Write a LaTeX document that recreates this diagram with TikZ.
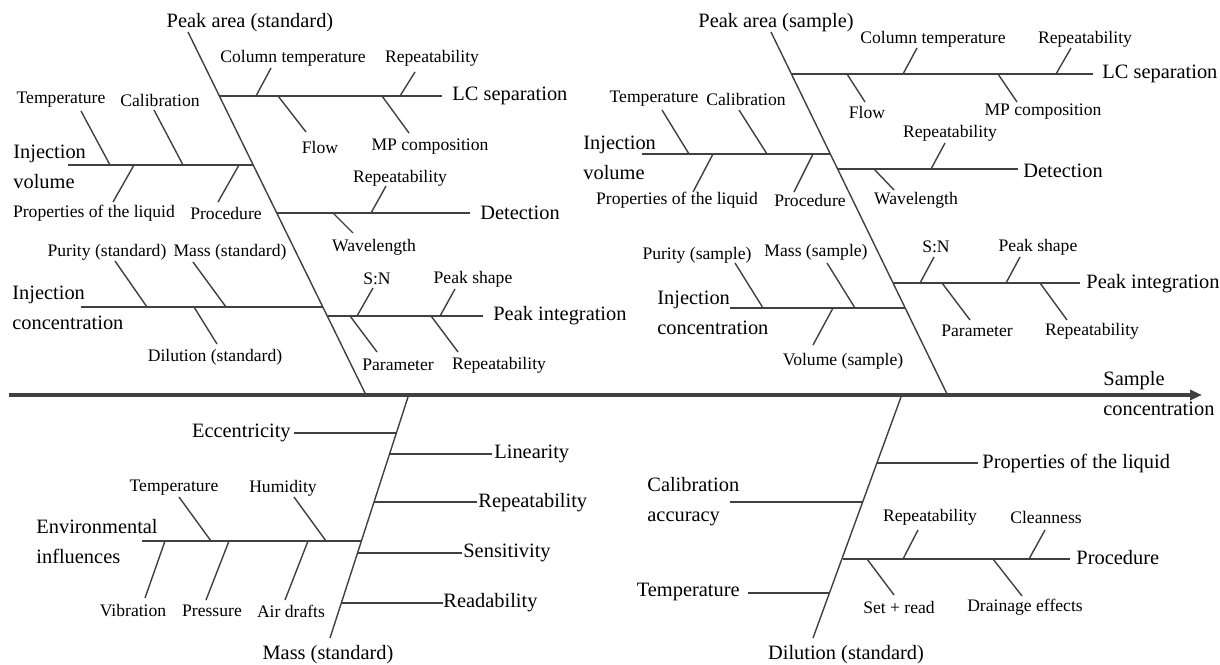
\documentclass[tikz,border=0pt]{standalone}
\usepackage{fontspec}
\setmainfont{LiberationSerif}[Extension=.ttf,UprightFont=*-Regular,BoldFont=*-Bold,ItalicFont=*-Italic,BoldItalicFont=*-BoldItalic]
\usetikzlibrary{arrows.meta}
\definecolor{bonegray}{RGB}{64,64,64}
\tikzset{
  bone/.style={draw=bonegray,line width=0.7pt},
  spine/.style={draw=bonegray,line width=1.6pt,-{Triangle[length=6pt,width=5pt]}},
  lbl/.style={inner sep=0pt,font=\rmfamily\fontsize{8.8}{10}\selectfont},
  cat/.style={inner sep=0pt,font=\rmfamily\fontsize{10.2}{15}\selectfont,align=left},
}
\begin{document}
\begin{tikzpicture}[x=0.5pt,y=-0.5pt]
\useasboundingbox (0,0) rectangle (1220,664);
% 主干
\coordinate (s0) at (9,395);
\coordinate (s1) at (1202,395);
\draw[spine] (s0) -- (s1);
\node[cat,anchor=west] (res) at (1103,394) {Sample\\concentration};
% 左上：Peak area (standard)
\node[cat] (Apa) at (250,23) {Peak area (standard)};
\coordinate (A0) at (188,32);
\coordinate (A1) at (365,393);
\draw[bone] (A0) -- (A1);
% LC separation
\coordinate (Alc0) at (220,96);
\node[cat,anchor=west,inner xsep=5pt] (Alc) at (442,96) {LC separation};
\draw[bone] (Alc0) -- (Alc0 -| Alc.west);
\coordinate (Alc1a) at (256,96); \coordinate (Alc1b) at (271,68);
\coordinate (Alc2a) at (400,96); \coordinate (Alc2b) at (415,72);
\coordinate (Alc3a) at (278,96); \coordinate (Alc3b) at (306,132);
\coordinate (Alc4a) at (382,96); \coordinate (Alc4b) at (409,133);
\draw[bone] (Alc1a) -- (Alc1b);
\draw[bone] (Alc2a) -- (Alc2b);
\draw[bone] (Alc3a) -- (Alc3b);
\draw[bone] (Alc4a) -- (Alc4b);
\node[lbl] (tAlc1) at (293,58) {Column temperature};
\node[lbl] (tAlc2) at (432,58) {Repeatability};
\node[lbl] (tAlc3) at (320,147) {Flow};
\node[lbl] (tAlc4) at (430,147) {MP composition};
% Injection volume
\coordinate (Aiv0) at (68,165);
\coordinate (Aiv1) at (253,165);
\draw[bone] (Aiv0) -- (Aiv1);
\node[cat,anchor=west] (Aiv) at (13,167) {Injection\\volume};
\coordinate (Aiv1a) at (110,165); \coordinate (Aiv1b) at (81,111);
\coordinate (Aiv2a) at (183,165); \coordinate (Aiv2b) at (154,110);
\coordinate (Aiv3a) at (134,165); \coordinate (Aiv3b) at (113,202);
\coordinate (Aiv4a) at (239,165); \coordinate (Aiv4b) at (218,202);
\draw[bone] (Aiv1a) -- (Aiv1b);
\draw[bone] (Aiv2a) -- (Aiv2b);
\draw[bone] (Aiv3a) -- (Aiv3b);
\draw[bone] (Aiv4a) -- (Aiv4b);
\node[lbl] (tAiv1) at (61,100) {Temperature};
\node[lbl] (tAiv2) at (160,100) {Calibration};
\node[lbl] (tAiv3) at (94,213) {Properties of the liquid};
\node[lbl] (tAiv4) at (226,213) {Procedure};
% Detection
\coordinate (Adt0) at (277,213);
\node[cat,anchor=west,inner xsep=5pt] (Adt) at (470,213) {Detection};
\draw[bone] (Adt0) -- (Adt0 -| Adt.west);
\coordinate (Adt1a) at (371,213); \coordinate (Adt1b) at (386,186);
\coordinate (Adt2a) at (333,213); \coordinate (Adt2b) at (353,233);
\draw[bone] (Adt1a) -- (Adt1b);
\draw[bone] (Adt2a) -- (Adt2b);
\node[lbl] (tAdt1) at (400,178) {Repeatability};
\node[lbl] (tAdt2) at (374,247) {Wavelength};
% Injection concentration
\coordinate (Aic0) at (81,307);
\coordinate (Aic1) at (323,307);
\draw[bone] (Aic0) -- (Aic1);
\node[cat,anchor=west] (Aic) at (12,308) {Injection\\concentration};
\coordinate (Aic1a) at (147,307); \coordinate (Aic1b) at (115,261);
\coordinate (Aic2a) at (226,307); \coordinate (Aic2b) at (193,262);
\coordinate (Aic3a) at (194,307); \coordinate (Aic3b) at (217,344);
\draw[bone] (Aic1a) -- (Aic1b);
\draw[bone] (Aic2a) -- (Aic2b);
\draw[bone] (Aic3a) -- (Aic3b);
\node[lbl] (tAic1) at (107,252) {Purity (standard)};
\node[lbl] (tAic2) at (230,252) {Mass (standard)};
\node[lbl] (tAic3) at (215,357) {Dilution (standard)};
% Peak integration
\coordinate (Api0) at (327,316);
\node[cat,anchor=west,inner xsep=5pt] (Api) at (483,316) {Peak integration};
\draw[bone] (Api0) -- (Api0 -| Api.west);
\coordinate (Api1a) at (357,316); \coordinate (Api1b) at (373,288);
\coordinate (Api2a) at (440,316); \coordinate (Api2b) at (455,289);
\coordinate (Api3a) at (350,316); \coordinate (Api3b) at (377,352);
\coordinate (Api4a) at (431,316); \coordinate (Api4b) at (458,352);
\draw[bone] (Api1a) -- (Api1b);
\draw[bone] (Api2a) -- (Api2b);
\draw[bone] (Api3a) -- (Api3b);
\draw[bone] (Api4a) -- (Api4b);
\node[lbl] (tApi1) at (377,279) {S:N};
\node[lbl] (tApi2) at (473,279) {Peak shape};
\node[lbl] (tApi3) at (398,365) {Parameter};
\node[lbl] (tApi4) at (499,365) {Repeatability};
% 右上：Peak area (sample)
\node[cat] (Bpa) at (776,23) {Peak area (sample)};
\coordinate (B0) at (771,32);
\coordinate (B1) at (947,394);
\draw[bone] (B0) -- (B1);
% LC separation
\coordinate (Blc0) at (792,74);
\node[cat,anchor=west,inner xsep=4.5pt] (Blc) at (1093,74) {LC separation};
\draw[bone] (Blc0) -- (Blc0 -| Blc.west);
\coordinate (Blc1a) at (903,74); \coordinate (Blc1b) at (917,48);
\coordinate (Blc2a) at (1056,74); \coordinate (Blc2b) at (1071,48);
\coordinate (Blc3a) at (847,74); \coordinate (Blc3b) at (865,102);
\coordinate (Blc4a) at (998,74); \coordinate (Blc4b) at (1017,102);
\draw[bone] (Blc1a) -- (Blc1b);
\draw[bone] (Blc2a) -- (Blc2b);
\draw[bone] (Blc3a) -- (Blc3b);
\draw[bone] (Blc4a) -- (Blc4b);
\node[lbl] (tBlc1) at (933,39) {Column temperature};
\node[lbl] (tBlc2) at (1085,39) {Repeatability};
\node[lbl] (tBlc3) at (867,112) {Flow};
\node[lbl] (tBlc4) at (1043,112) {MP composition};
% Injection volume
\coordinate (Biv0) at (642,154);
\coordinate (Biv1) at (830,154);
\draw[bone] (Biv0) -- (Biv1);
\node[cat,anchor=west] (Biv) at (583,158) {Injection\\volume};
\coordinate (Biv1a) at (689,154); \coordinate (Biv1b) at (662,110);
\coordinate (Biv2a) at (767,154); \coordinate (Biv2b) at (739,110);
\coordinate (Biv3a) at (713,154); \coordinate (Biv3b) at (693,192);
\coordinate (Biv4a) at (813,154); \coordinate (Biv4b) at (794,192);
\draw[bone] (Biv1a) -- (Biv1b);
\draw[bone] (Biv2a) -- (Biv2b);
\draw[bone] (Biv3a) -- (Biv3b);
\draw[bone] (Biv4a) -- (Biv4b);
\node[lbl] (tBiv1) at (654,99) {Temperature};
\node[lbl] (tBiv2) at (746,99) {Calibration};
\node[lbl] (tBiv3) at (677,200) {Properties of the liquid};
\node[lbl] (tBiv4) at (810,200) {Procedure};
% Detection
\coordinate (Bdt0) at (838,169);
\node[cat,anchor=west,inner xsep=2.5pt] (Bdt) at (1018,171) {Detection};
\draw[bone] (Bdt0) -- (Bdt0 -| Bdt.west);
\coordinate (Bdt1a) at (931,169); \coordinate (Bdt1b) at (945,143);
\coordinate (Bdt2a) at (874,169); \coordinate (Bdt2b) at (894,190);
\draw[bone] (Bdt1a) -- (Bdt1b);
\draw[bone] (Bdt2a) -- (Bdt2b);
\node[lbl] (tBdt1) at (950,133) {Repeatability};
\node[lbl] (tBdt2) at (916,200) {Wavelength};
% Peak integration
\coordinate (Bpi0) at (893,283);
\node[cat,anchor=west,inner xsep=3pt] (Bpi) at (1080,284) {Peak integration};
\draw[bone] (Bpi0) -- (Bpi0 -| Bpi.west);
\coordinate (Bpi1a) at (920,283); \coordinate (Bpi1b) at (934,257);
\coordinate (Bpi2a) at (1006,283); \coordinate (Bpi2b) at (1020,257);
\coordinate (Bpi3a) at (942,283); \coordinate (Bpi3b) at (970,320);
\coordinate (Bpi4a) at (1040,283); \coordinate (Bpi4b) at (1067,320);
\draw[bone] (Bpi1a) -- (Bpi1b);
\draw[bone] (Bpi2a) -- (Bpi2b);
\draw[bone] (Bpi3a) -- (Bpi3b);
\draw[bone] (Bpi4a) -- (Bpi4b);
\node[lbl] (tBpi1) at (936,247) {S:N};
\node[lbl] (tBpi2) at (1038,247) {Peak shape};
\node[lbl] (tBpi3) at (977,331) {Parameter};
\node[lbl] (tBpi4) at (1092,331) {Repeatability};
% Injection concentration
\coordinate (Bic0) at (730,308);
\coordinate (Bic1) at (905,308);
\draw[bone] (Bic0) -- (Bic1);
\node[cat,anchor=west] (Bic) at (657,313) {Injection\\concentration};
\coordinate (Bic1a) at (763,308); \coordinate (Bic1b) at (735,263);
\coordinate (Bic2a) at (855,308); \coordinate (Bic2b) at (827,263);
\coordinate (Bic3a) at (833,308); \coordinate (Bic3b) at (813,345);
\draw[bone] (Bic1a) -- (Bic1b);
\draw[bone] (Bic2a) -- (Bic2b);
\draw[bone] (Bic3a) -- (Bic3b);
\node[lbl] (tBic1) at (697,255) {Purity (sample)};
\node[lbl] (tBic2) at (816,252) {Mass (sample)};
\node[lbl] (tBic3) at (843,361) {Volume (sample)};
% 左下：Mass (standard)
\node[cat] (Cms) at (328,655) {Mass (standard)};
\coordinate (C0) at (408,397);
\coordinate (C1) at (330,638);
\draw[bone] (C0) -- (C1);
\coordinate (Cec0) at (396,433);
\node[cat,anchor=east,inner xsep=1.5pt] (Cec) at (294,433) {Eccentricity};
\draw[bone] (Cec0) -- (Cec0 -| Cec.east);
\coordinate (Cln0) at (390,454);
\node[cat,anchor=west,inner xsep=1pt] (Cln) at (492,454) {Linearity};
\draw[bone] (Cln0) -- (Cln0 -| Cln.west);
\coordinate (Crp0) at (374,502);
\node[cat,anchor=west,inner xsep=0.5pt] (Crp) at (477,503) {Repeatability};
\draw[bone] (Crp0) -- (Crp0 -| Crp.west);
\coordinate (Csn0) at (357,553);
\node[cat,anchor=west,inner xsep=0.5pt] (Csn) at (462,553) {Sensitivity};
\draw[bone] (Csn0) -- (Csn0 -| Csn.west);
\coordinate (Crd0) at (341,603);
\node[cat,anchor=west] (Crd) at (443,603) {Readability};
\draw[bone] (Crd0) -- (Crd0 -| Crd.west);
% Environmental influences
\coordinate (Cev0) at (142,541);
\coordinate (Cev1) at (361,541);
\draw[bone] (Cev0) -- (Cev1);
\node[cat,anchor=west] (Cev) at (36,542) {Environmental\\influences};
\coordinate (Cev1a) at (211,541); \coordinate (Cev1b) at (179,497);
\coordinate (Cev2a) at (326,541); \coordinate (Cev2b) at (294,497);
\coordinate (Cev3a) at (165,541); \coordinate (Cev3b) at (145,598);
\coordinate (Cev4a) at (229,541); \coordinate (Cev4b) at (206,600);
\coordinate (Cev5a) at (308,541); \coordinate (Cev5b) at (285,600);
\draw[bone] (Cev1a) -- (Cev1b);
\draw[bone] (Cev2a) -- (Cev2b);
\draw[bone] (Cev3a) -- (Cev3b);
\draw[bone] (Cev4a) -- (Cev4b);
\draw[bone] (Cev5a) -- (Cev5b);
\node[lbl] (tCev1) at (174,488) {Temperature};
\node[lbl] (tCev2) at (283,488) {Humidity};
\node[lbl] (tCev3) at (133,611) {Vibration};
\node[lbl] (tCev4) at (212,611) {Pressure};
\node[lbl] (tCev5) at (291,611) {Air drafts};
% 右下：Dilution (standard)
\node[cat] (Ddl) at (846,655) {Dilution (standard)};
\coordinate (D0) at (901,397);
\coordinate (D1) at (813,638);
\draw[bone] (D0) -- (D1);
\coordinate (Dpl0) at (877,463);
\node[cat,anchor=west,inner xsep=2pt] (Dpl) at (978,463) {Properties of the liquid};
\draw[bone] (Dpl0) -- (Dpl0 -| Dpl.west);
\coordinate (Dca0) at (730,502);
\coordinate (Dca1) at (862,502);
\draw[bone] (Dca0) -- (Dca1);
\node[cat,anchor=west] (Dca) at (647,502) {Calibration\\accuracy};
\coordinate (Dtp0) at (829,593);
\node[cat,anchor=east,inner xsep=4pt] (Dtp) at (748,592) {Temperature};
\draw[bone] (Dtp0) -- (Dtp0 -| Dtp.east);
% Procedure
\coordinate (Dpr0) at (843,559);
\node[cat,anchor=west,inner xsep=3pt] (Dpr) at (1070,558) {Procedure};
\draw[bone] (Dpr0) -- (Dpr0 -| Dpr.west);
\coordinate (Dpr1a) at (903,559); \coordinate (Dpr1b) at (918,530);
\coordinate (Dpr2a) at (1029,559); \coordinate (Dpr2b) at (1045,530);
\coordinate (Dpr3a) at (867,559); \coordinate (Dpr3b) at (894,595);
\coordinate (Dpr4a) at (993,559); \coordinate (Dpr4b) at (1022,596);
\draw[bone] (Dpr1a) -- (Dpr1b);
\draw[bone] (Dpr2a) -- (Dpr2b);
\draw[bone] (Dpr3a) -- (Dpr3b);
\draw[bone] (Dpr4a) -- (Dpr4b);
\node[lbl] (tDpr1) at (930,517) {Repeatability};
\node[lbl] (tDpr2) at (1046,517) {Cleanness};
\node[lbl] (tDpr3) at (899,607) {Set + read};
\node[lbl] (tDpr4) at (1025,607) {Drainage effects};
\end{tikzpicture}
\end{document}
